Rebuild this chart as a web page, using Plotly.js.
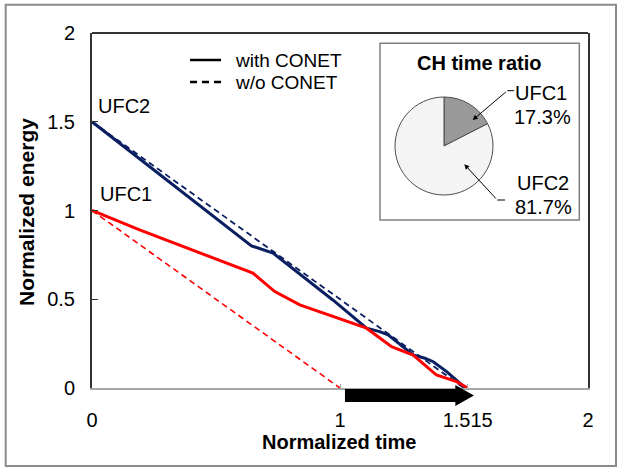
<!DOCTYPE html>
<html>
<head>
<meta charset="utf-8">
<script src="https://cdn.plot.ly/plotly-3.0.1.min.js"></script>
<style>html,body{margin:0;padding:0;background:#fff;}#chart{width:622px;height:471px;}</style>
</head>
<body>
<div id="chart"></div>
<script>
// ---- data ----
var ufc2WithX = [0, 0.643, 0.730, 0.971, 1.107, 1.160, 1.194, 1.295, 1.342, 1.376, 1.430, 1.477, 1.505];
var ufc2WithY = [1.5, 0.801, 0.760, 0.496, 0.337, 0.318, 0.299, 0.186, 0.168, 0.148, 0.092, 0.036, 0];
var ufc1WithX = [0, 0.192, 0.649, 0.737, 0.838, 1.107, 1.208, 1.295, 1.389, 1.470, 1.515];
var ufc1WithY = [1.0, 0.891, 0.647, 0.543, 0.468, 0.337, 0.233, 0.186, 0.073, 0.036, 0];
var ufc2WoX = [0, 1.5];
var ufc2WoY = [1.5, 0];
var ufc1WoX = [0, 1];
var ufc1WoY = [1, 0];
var pieLabels = ['UFC1', 'UFC2'];
var pieValues = [17.3, 81.7];
var pieText = ['17.3%', '81.7%'];
var xTickVals = [0, 1, 1.515, 2];
var xTickText = ['0', '1', '1.515', '2'];
var yTickVals = [0, 0.5, 1, 1.5, 2];
var yTickText = ['0', '0.5', '1', '1.5', '2'];
var arrowStart = 1.0, arrowEnd = 1.515;

// ---- layout helpers (pixel -> paper) ----
var W = 622, H = 471, ML = 92, MR = 34, MT = 33, MB = 83;
var PW = W - ML - MR, PH = H - MT - MB;
function X(px) { return (px - ML) / PW; }
function Y(py) { return (H - MB - py) / PH; }

var FONT = 'Arial, "Liberation Sans", sans-serif';
var NAVY = '#0a1f62', RED = '#ff0000';

var traces = [
  {x: ufc1WoX, y: ufc1WoY, type: 'scatter', mode: 'lines', line: {color: RED, width: 1.6, dash: '6px,4px'}, showlegend: false, hoverinfo: 'skip'},
  {x: ufc2WoX, y: ufc2WoY, type: 'scatter', mode: 'lines', line: {color: NAVY, width: 1.8, dash: '6px,4px'}, showlegend: false, hoverinfo: 'skip'},
  {x: ufc2WithX, y: ufc2WithY, type: 'scatter', mode: 'lines', line: {color: NAVY, width: 3}, showlegend: false, hoverinfo: 'skip'},
  {x: ufc1WithX, y: ufc1WithY, type: 'scatter', mode: 'lines', line: {color: RED, width: 3}, showlegend: false, hoverinfo: 'skip'},
  {type: 'pie', labels: pieLabels, values: pieValues, sort: false, direction: 'clockwise', rotation: 0,
   textinfo: 'none', hoverinfo: 'skip', showlegend: false,
   marker: {colors: ['#999999', '#f4f4f4'], line: {color: '#4d4d4d', width: 1}},
   domain: {x: [X(395), X(493)], y: [Y(195), Y(97)]}}
];

// arrow geometry (paper y, data x)
var bx0 = arrowStart + 0.02, bx1 = arrowEnd - 0.05, tip = arrowEnd + 0.025;
var arrowPath = 'M' + bx0 + ',' + Y(389) + ' L' + bx1 + ',' + Y(389) + ' L' + bx1 + ',' + Y(385) +
  ' L' + tip + ',' + Y(395.5) + ' L' + bx1 + ',' + Y(406) + ' L' + bx1 + ',' + Y(402) +
  ' L' + bx0 + ',' + Y(402) + ' Z';

var shapes = [
  // outer border
  {type: 'rect', xref: 'paper', yref: 'paper', x0: X(5.7), x1: X(616), y0: Y(466), y1: Y(4.7), line: {color: '#8c8c8c', width: 2}},
  // top frame line
  {type: 'line', xref: 'paper', yref: 'paper', x0: 0, x1: 1, y0: 1, y1: 1, line: {color: '#333333', width: 2}},
  // inset box
  {type: 'rect', xref: 'paper', yref: 'paper', x0: X(380), x1: X(579.3), y0: Y(220), y1: Y(43.3), line: {color: '#808080', width: 1.5}, fillcolor: '#ffffff', layer: 'below'},
  // legend samples
  {type: 'line', xref: 'paper', yref: 'paper', x0: X(190), x1: X(221), y0: Y(60), y1: Y(60), line: {color: '#000', width: 2.5}},
  {type: 'line', xref: 'paper', yref: 'paper', x0: X(190), x1: X(221), y0: Y(82), y1: Y(82), line: {color: '#000', width: 2.5, dash: '7px,5px'}},
  // pie leader elbows
  {type: 'line', xref: 'paper', yref: 'paper', x0: X(507.3), x1: X(514), y0: Y(90.7), y1: Y(90.7), line: {color: '#000', width: 1}},
  {type: 'line', xref: 'paper', yref: 'paper', x0: X(497.3), x1: X(505), y0: Y(200), y1: Y(200), line: {color: '#000', width: 1}},
  // black arrow
  {type: 'path', xref: 'x', yref: 'paper', path: arrowPath, fillcolor: '#000', line: {color: '#000', width: 0}, layer: 'above'}
];

function txt(t, px, py, size, opts) {
  var a = {text: t, xref: 'paper', yref: 'paper', x: X(px), y: Y(py), showarrow: false,
    xanchor: 'left', yanchor: 'middle', font: {family: FONT, size: size, color: '#000'}};
  for (var k in opts) a[k] = opts[k];
  return a;
}

var annotations = [
  txt('UFC2', 96, 106, 20),
  txt('UFC1', 98, 194, 20),
  txt('with CONET', 233, 60, 19),
  txt('w/o CONET', 233, 82, 19),
  txt('<b>CH time ratio</b>', 479, 63, 20, {xanchor: 'center'}),
  txt(pieLabels[0], 541, 93, 20, {xanchor: 'center'}),
  txt(pieText[0], 542, 117, 20, {xanchor: 'center'}),
  txt(pieLabels[1], 543, 183, 20, {xanchor: 'center'}),
  txt(pieText[1], 543, 207, 20, {xanchor: 'center'}),
  txt('<b>Normalized time</b>', 339, 442, 20, {xanchor: 'center'}),
  txt('<b>Normalized energy</b>', 26, 212, 21, {xanchor: 'center', textangle: -90}),
  // leader arrows
  {text: '', xref: 'paper', yref: 'paper', x: X(472.7), y: Y(120), ax: 34.6, ay: -29.3, showarrow: true,
   arrowhead: 2, arrowsize: 1, arrowwidth: 1, arrowcolor: '#000', standoff: 0, startstandoff: 0},
  {text: '', xref: 'paper', yref: 'paper', x: X(464.3), y: Y(164.3), ax: 33, ay: 35.7, showarrow: true,
   arrowhead: 2, arrowsize: 1, arrowwidth: 1, arrowcolor: '#000', standoff: 0, startstandoff: 0}
];

var layout = {
  width: W, height: H,
  margin: {l: ML, r: MR, t: MT, b: MB, pad: 0},
  paper_bgcolor: '#fff', plot_bgcolor: '#fff',
  font: {family: FONT, size: 20, color: '#000'},
  showlegend: false,
  xaxis: {range: [0, 2], tickvals: xTickVals, ticktext: xTickText, showgrid: false, zeroline: false,
    showline: true, linecolor: '#a6a6a6', linewidth: 1.5, ticks: 'inside', ticklen: 4, tickcolor: '#a6a6a6',
    tickfont: {family: FONT, size: 20, color: '#000'}, ticklabelstandoff: 13, fixedrange: true},
  yaxis: {range: [0, 2], tickvals: yTickVals, ticktext: yTickText, showgrid: false, zeroline: false,
    showline: true, mirror: true, linecolor: '#333333', linewidth: 2, ticks: 'inside', ticklen: 6, tickcolor: '#333333',
    tickfont: {family: FONT, size: 20, color: '#000'}, ticklabelstandoff: 11, fixedrange: true},
  shapes: shapes,
  annotations: annotations
};

Plotly.newPlot('chart', traces, layout, {staticPlot: true, displayModeBar: false});
</script>
</body>
</html>
